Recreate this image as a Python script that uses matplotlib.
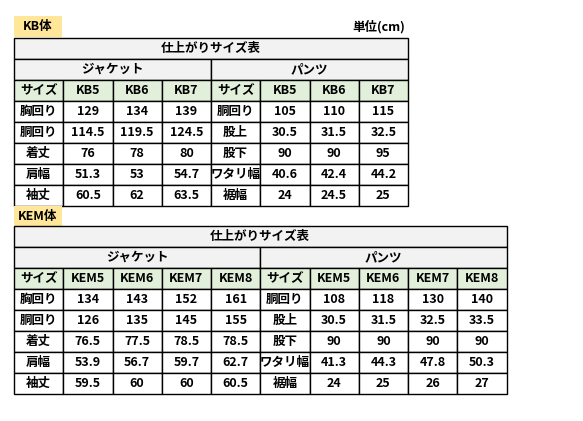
import matplotlib
matplotlib.use('Agg')
import matplotlib.pyplot as plt
from matplotlib.patches import Rectangle

plt.rcParams['font.family'] = ['Noto Sans CJK JP', 'DejaVu Sans']

kb_sizes = ['KB5', 'KB6', 'KB7']
kb_jacket_items = ['胸回り', '胴回り', '着丈', '肩幅', '袖丈']
kb_jacket = [['129', '134', '139'],
             ['114.5', '119.5', '124.5'],
             ['76', '78', '80'],
             ['51.3', '53', '54.7'],
             ['60.5', '62', '63.5']]
kb_pants_items = ['胴回り', '股上', '股下', 'ワタリ幅', '裾幅']
kb_pants = [['105', '110', '115'],
            ['30.5', '31.5', '32.5'],
            ['90', '90', '95'],
            ['40.6', '42.4', '44.2'],
            ['24', '24.5', '25']]

kem_sizes = ['KEM5', 'KEM6', 'KEM7', 'KEM8']
kem_jacket_items = ['胸回り', '胴回り', '着丈', '肩幅', '袖丈']
kem_jacket = [['134', '143', '152', '161'],
              ['126', '135', '145', '155'],
              ['76.5', '77.5', '78.5', '78.5'],
              ['53.9', '56.7', '59.7', '62.7'],
              ['59.5', '60', '60', '60.5']]
kem_pants_items = ['胴回り', '股上', '股下', 'ワタリ幅', '裾幅']
kem_pants = [['108', '118', '130', '140'],
             ['30.5', '31.5', '32.5', '33.5'],
             ['90', '90', '90', '90'],
             ['41.3', '44.3', '47.8', '50.3'],
             ['24', '25', '26', '27']]

GREY = '#f2f2f2'
GREEN = '#e2efda'
YELLOW = '#ffe699'
CW, RH = 49.25, 21.0
FS = 9

fig = plt.figure(figsize=(5.83, 4.21), dpi=100)
ax = fig.add_axes([0, 0, 1, 1])
ax.set_xlim(0, 583)
ax.set_ylim(421, 0)
ax.axis('off')


def cell(x, y, w, h, text, fc='white', fs=FS):
    ax.add_patch(Rectangle((x, y), w, h, facecolor=fc, edgecolor='black', lw=1.0))
    ax.text(x + w / 2, y + h / 2, text, ha='center', va='center',
            fontsize=fs, fontweight='bold')


def table(x0, y0, sizes, j_items, j_vals, p_items, p_vals):
    n = len(sizes) + 1
    total = 2 * n * CW
    cell(x0, y0, total, RH, '仕上がりサイズ表', GREY)
    cell(x0, y0 + RH, n * CW, RH, 'ジャケット', GREY)
    cell(x0 + n * CW, y0 + RH, n * CW, RH, 'パンツ', GREY)
    for half, items, vals in [(0, j_items, j_vals), (1, p_items, p_vals)]:
        xs = x0 + half * n * CW
        y = y0 + 2 * RH
        cell(xs, y, CW, RH, 'サイズ', GREEN)
        for i, s in enumerate(sizes):
            cell(xs + (i + 1) * CW, y, CW, RH, s, GREEN)
        for r, (it, row) in enumerate(zip(items, vals)):
            yr = y + (r + 1) * RH
            cell(xs, yr, CW, RH, it)
            for i, v in enumerate(row):
                cell(xs + (i + 1) * CW, yr, CW, RH, v)


def label(x, y, text):
    ax.add_patch(Rectangle((x, y), 48, 21, facecolor=YELLOW, edgecolor='none'))
    ax.text(x + 24, y + 10.5, text, ha='center', va='center', fontsize=FS, fontweight='bold')


label(14, 16, 'KB体')
ax.text(405, 27, '単位(cm)', ha='right', va='center', fontsize=FS, fontweight='bold')
table(14, 38, kb_sizes, kb_jacket_items, kb_jacket, kb_pants_items, kb_pants)
label(14, 206, 'KEM体')
table(14, 226, kem_sizes, kem_jacket_items, kem_jacket, kem_pants_items, kem_pants)

fig.savefig('out.png', dpi=100)
